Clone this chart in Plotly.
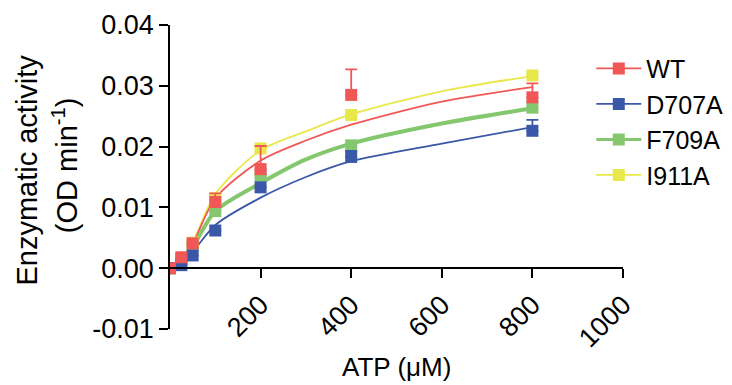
import plotly.graph_objects as go

# ---- data ----
atp = [0, 25, 50, 100, 200, 400, 800]
wt = [0.0000, 0.0018, 0.0041, 0.0109, 0.0163, 0.0285, 0.0281]
wt_err = [0, 0, 0, 0.0014, 0.0038, 0.0042, 0.0023]
d707a = [0.0000, 0.0005, 0.0021, 0.0062, 0.0133, 0.0183, 0.0226]
d707a_err = [0, 0, 0, 0, 0, 0.0010, 0.0018]
f709a = [0.0000, 0.0015, 0.0037, 0.0094, 0.0152, 0.0202, 0.0264]
f709a_err = [0, 0, 0, 0, 0, 0, 0]
i911a = [0.0000, 0.0016, 0.0042, 0.0115, 0.0197, 0.0252, 0.0317]
i911a_err = [0, 0, 0, 0, 0, 0, 0]

# fitted curves
atp_fit = [0, 25, 50, 100, 200, 300, 400, 600, 800]
wt_fit = [0, 0.0015, 0.0040, 0.0115, 0.0177, 0.0210, 0.0236, 0.0274, 0.0298]
d707a_fit = [0, 0.0011, 0.0027, 0.0071, 0.0116, 0.0150, 0.0176, 0.0205, 0.0232]
f709a_fit = [0, 0.0014, 0.0035, 0.0094, 0.0140, 0.0179, 0.0205, 0.0238, 0.0263]
i911a_fit = [0, 0.0016, 0.0042, 0.0122, 0.0194, 0.0225, 0.0253, 0.0291, 0.0316]

names = ["WT", "D707A", "F709A", "I911A"]
x_ticks = [200, 400, 600, 800, 1000]
y_ticks = [-0.01, 0.00, 0.01, 0.02, 0.03, 0.04]
y_ticklabels = ["-0.01", "0.00", "0.01", "0.02", "0.03", "0.04"]

colors = {"WT": "#F25757", "D707A": "#3B58A8", "F709A": "#85C76E", "I911A": "#E8E84A"}
line_w = {"WT": 1.8, "D707A": 1.8, "F709A": 4, "I911A": 1.8}
series = {
    "WT": (wt, wt_err, wt_fit),
    "D707A": (d707a, d707a_err, d707a_fit),
    "F709A": (f709a, f709a_err, f709a_fit),
    "I911A": (i911a, i911a_err, i911a_fit),
}

FONT = "Liberation Sans, Arial, Helvetica, sans-serif"
fig = go.Figure()

# fitted lines
for n in ["D707A", "I911A", "WT", "F709A"]:
    fig.add_trace(go.Scatter(x=atp_fit, y=series[n][2], mode="lines",
                             line=dict(color=colors[n], width=line_w[n], shape="spline", smoothing=0.8),
                             showlegend=False, hoverinfo="skip"))

# data points with upper error bars
for n in ["I911A", "F709A", "D707A", "WT"]:
    vals, err, _ = series[n]
    fig.add_trace(go.Scatter(x=atp, y=vals, mode="markers",
                             marker=dict(symbol="square", size=12, color=colors[n]),
                             error_y=dict(type="data", symmetric=False, array=err,
                                          arrayminus=[0] * len(err), color=colors[n],
                                          thickness=1.8, width=6),
                             showlegend=False))

# legend entries
for i, n in enumerate(names):
    fig.add_trace(go.Scatter(x=[None], y=[None], mode="lines+markers", name=n,
                             line=dict(color=colors[n], width=line_w[n] if n != "F709A" else 3),
                             marker=dict(symbol="square", size=12, color=colors[n]),
                             legendrank=i + 1))

# page has an 8px body margin: figure pixel = page pixel - 8
L, R, T, B = 162, 112, 17, 64
W, H = 732, 385

fig.update_layout(
    width=W, height=H,
    margin=dict(l=L, r=R, t=T, b=B),
    paper_bgcolor="white", plot_bgcolor="white",
    font=dict(family=FONT, size=26, color="black"),
    showlegend=True,
    legend=dict(x=0.93, y=0.932, xanchor="left", yanchor="top", itemwidth=45,
                font=dict(size=25), bgcolor="rgba(0,0,0,0)", tracegroupgap=0),
    xaxis=dict(range=[0, 1000], tickvals=x_ticks, ticktext=[str(v) for v in x_ticks],
               tickangle=-45, ticks="outside", ticklen=9, tickwidth=1.8, tickcolor="black",
               showline=True, linecolor="black", linewidth=1.8, showgrid=False, zeroline=False,
               anchor="free", position=0.2, tickfont=dict(size=27), automargin=False),
    yaxis=dict(range=[-0.01, 0.04], tickvals=y_ticks, ticktext=y_ticklabels,
               ticks="outside", ticklen=9, tickwidth=1.8, tickcolor="black",
               showline=True, linecolor="black", linewidth=1.8, showgrid=False, zeroline=False,
               tickfont=dict(size=27), automargin=False),
)

pw = W - L - R
ph = H - T - B


def to_paper(px, py):
    # page pixel -> paper coordinates
    fx, fy = px - 8, py - 8
    return (fx - L) / pw, (H - B - fy) / ph


ax, ay = to_paper(399, 367)
a1x, a1y = to_paper(25, 170)
a2x, a2y = to_paper(64, 165)
fig.update_layout(annotations=[
    dict(text="ATP (\u03bcM)", x=ax, y=ay, xref="paper", yref="paper",
         xanchor="center", yanchor="middle", showarrow=False, font=dict(size=26)),
    dict(text="Enzymatic activity", x=a1x, y=a1y, xref="paper", yref="paper",
         xanchor="center", yanchor="middle", showarrow=False, textangle=-90, font=dict(size=29)),
    dict(text="(OD min<sup>-1</sup>)", x=a2x, y=a2y, xref="paper", yref="paper",
         xanchor="center", yanchor="middle", showarrow=False, textangle=-90, font=dict(size=29)),
])

fig.write_html("out.html")
